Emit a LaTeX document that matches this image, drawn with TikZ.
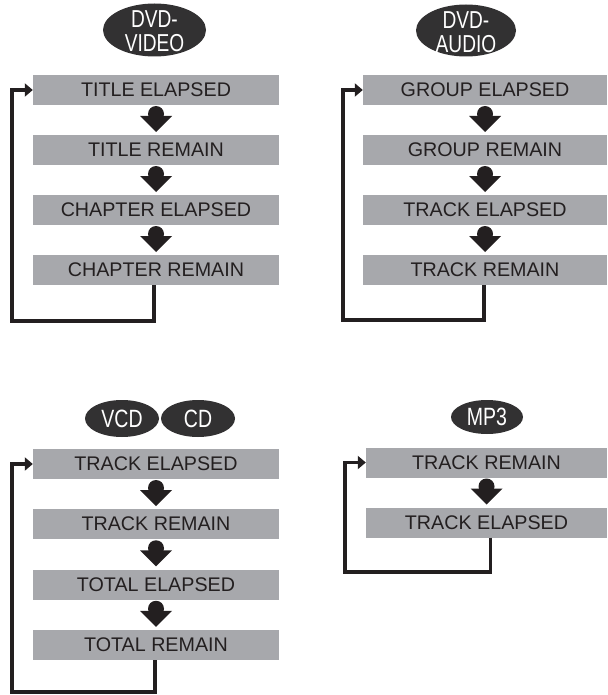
\documentclass[tikz,border=0pt]{standalone}
\usepackage{fontspec}
\setmainfont{Liberation Sans}
\usetikzlibrary{shapes.geometric,arrows.meta,calc}
\definecolor{boxgray}{RGB}{167,168,172}
\definecolor{discdark}{RGB}{50,49,50}
\definecolor{inkdark}{RGB}{35,31,32}
\tikzset{
  modebox/.style={rectangle, fill=boxgray, inner sep=0pt, minimum height=30pt,
    font=\fontsize{19.7}{19.7}\selectfont, text=inkdark},
  disc/.style={ellipse, fill=discdark, inner sep=0pt, text=white,
    font=\fontsize{25}{24}\selectfont},
  disctext/.style={inner sep=0pt, text=white, font=\fontsize{24.5}{23}\selectfont},
  loopline/.style={draw=inkdark, line width=3.8pt, line cap=butt, line join=miter,
    -{Triangle[length=8pt,width=13pt]}},
}
\newcommand\discname[1]{\scalebox{0.78}[1]{#1}}
\newcommand\fatarr[2]{%
  \coordinate (m) at ($(#1.south)!0.5!(#2.north)$);
  \fill[inkdark] ($(m)+(0,-6)$) circle[radius=8pt];
  \fill[inkdark] ($(m)+(-16,-4)$) -- ($(m)+(16,-4)$) -- ($(m)+(0,12)$) -- cycle;
}
\begin{document}
\begin{tikzpicture}[x=1pt,y=-1pt]
\useasboundingbox (0,0) rectangle (607,695);

% ---------- DVD-VIDEO ----------
\node[disc, minimum width=103pt, minimum height=53pt] (dvshape) at (154.5,30) {};
\node[disctext] (dv) at ($(dvshape.center)+(0,5)$)
  {\discname{\begin{tabular}{@{}c@{}}DVD-\\VIDEO\end{tabular}}};
\node[modebox, minimum width=246pt] (t1) at (156,90) {TITLE ELAPSED};
\node[modebox, minimum width=246pt] (t2) at (156,150) {TITLE REMAIN};
\node[modebox, minimum width=246pt] (t3) at (156,210) {CHAPTER ELAPSED};
\node[modebox, minimum width=246pt] (t4) at (156,270) {CHAPTER REMAIN};
\fatarr{t1}{t2}
\fatarr{t2}{t3}
\fatarr{t3}{t4}
\coordinate (tl) at (12,321);
\draw[loopline] ([xshift=-2pt]t4.south) |- (tl) |- (t1.west);

% ---------- DVD-AUDIO ----------
\node[disc, minimum width=100pt, minimum height=52pt] (dashape) at (466,30.5) {};
\node[disctext] (da) at ($(dashape.center)+(0,5)$)
  {\discname{\begin{tabular}{@{}c@{}}DVD-\\AUDIO\end{tabular}}};
\node[modebox, minimum width=244pt] (a1) at (485,90) {GROUP ELAPSED};
\node[modebox, minimum width=244pt] (a2) at (485,150) {GROUP REMAIN};
\node[modebox, minimum width=244pt] (a3) at (485,210) {TRACK ELAPSED};
\node[modebox, minimum width=244pt] (a4) at (485,270) {TRACK REMAIN};
\fatarr{a1}{a2}
\fatarr{a2}{a3}
\fatarr{a3}{a4}
\coordinate (al) at (343,320);
\draw[loopline] ([xshift=-1pt]a4.south) |- (al) |- (a1.west);

% ---------- VCD / CD ----------
\node[disc, minimum width=74pt, minimum height=37pt] (vcd) at (122,418.5) {\discname{VCD}};
\node[disc, minimum width=74pt, minimum height=37pt] (cd) at (198,418.5) {\discname{CD}};
\node[modebox, minimum width=246pt] (c1) at (156,464) {TRACK ELAPSED};
\node[modebox, minimum width=246pt] (c2) at (156,524) {TRACK REMAIN};
\node[modebox, minimum width=246pt] (c3) at (156,584.5) {TOTAL ELAPSED};
\node[modebox, minimum width=246pt] (c4) at (156,645) {TOTAL REMAIN};
\fatarr{c1}{c2}
\fatarr{c2}{c3}
\fatarr{c3}{c4}
\coordinate (cl) at (12,692);
\draw[loopline] ([xshift=-1pt]c4.south) |- (cl) |- (c1.west);

% ---------- MP3 ----------
\node[disc, minimum width=72pt, minimum height=34pt] (mp) at (487,417) {\discname{MP3}};
\node[modebox, minimum width=241pt] (p1) at (486.5,462.5) {TRACK REMAIN};
\node[modebox, minimum width=241pt] (p2) at (486.5,522.5) {TRACK ELAPSED};
\fatarr{p1}{p2}
\coordinate (pl) at (345,572);
\draw[loopline] ([xshift=4pt]p2.south) |- (pl) |- (p1.west);
\end{tikzpicture}
\end{document}
